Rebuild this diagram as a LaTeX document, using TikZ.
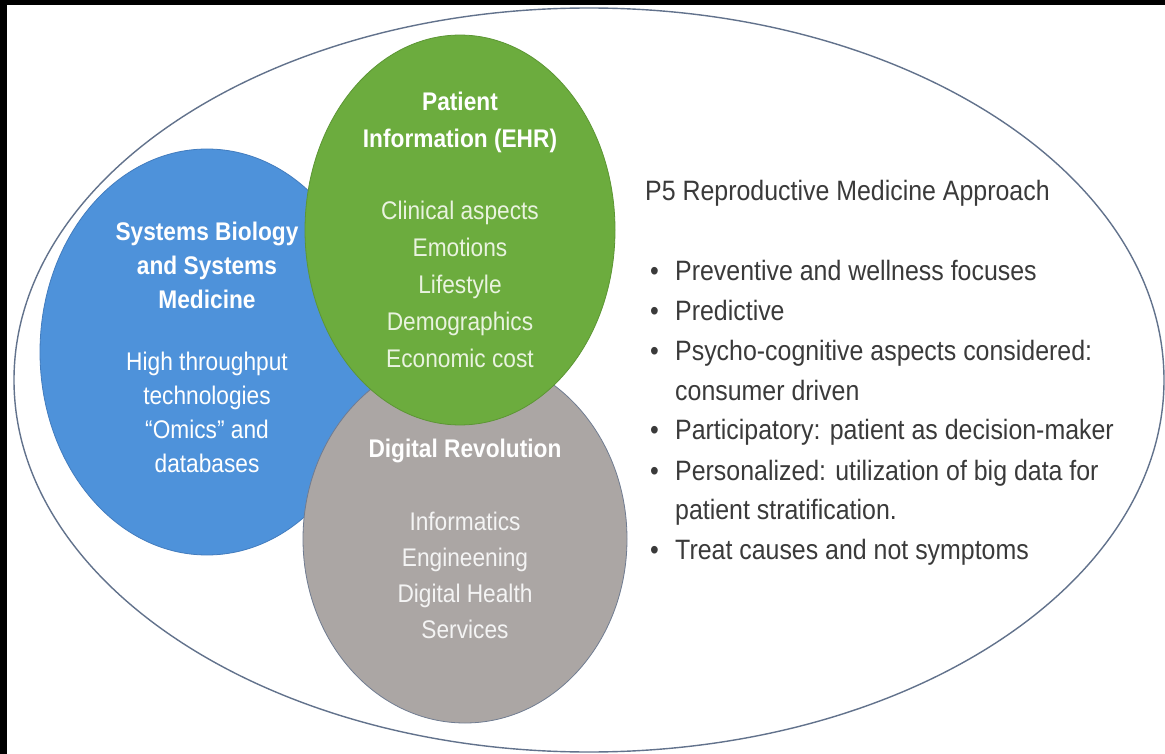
\documentclass[tikz,border=0pt]{standalone}
\usepackage{fontspec}
\setmainfont{Liberation Sans}[FakeStretch=0.89]
\usetikzlibrary{shapes.geometric}

\definecolor{ringline}{RGB}{98,114,140}
\definecolor{sysblue}{RGB}{78,146,218}
\definecolor{sysblueline}{RGB}{66,124,190}
\definecolor{ehrgreen}{RGB}{108,172,62}
\definecolor{ehrgreenline}{RGB}{92,150,52}
\definecolor{ehrtext}{RGB}{233,243,223}
\definecolor{digigray}{RGB}{171,166,164}
\definecolor{digigrayline}{RGB}{112,124,145}
\definecolor{digitext}{RGB}{244,244,244}
\definecolor{bodytext}{RGB}{58,58,58}

\begin{document}
\begin{tikzpicture}[x=1pt,y=-1pt]

      \useasboundingbox (0,0) rectangle (1165,754);
      \fill[white] (0,0) rectangle (1165,754);
      \fill[black] (0,0) rectangle (1165,5);
      \fill[black] (0,0) rectangle (7,754);

      % outer ring
      \draw[ringline, line width=1.4pt] (589,380) ellipse [x radius=575, y radius=372];

      \begin{scope}[every node/.style={ellipse, inner sep=0pt, align=center, text=white, line width=0.8pt}]
        \node[fill=sysblue, draw=sysblueline, minimum width=334pt, minimum height=406pt,
              text depth=10pt, font=\fontsize{25.5}{34}\selectfont] (sys) at (207,352)
          {\textbf{Systems Biology}\\ \textbf{and Systems}\\ \textbf{Medicine}\\[28pt]
           High throughput\\ technologies\\ “Omics” and\\ databases};
        \node[fill=digigray, draw=digigrayline, minimum width=324pt, minimum height=368pt,
              font=\fontsize{25.5}{36}\selectfont] (dig) at (465,539)
          {\textbf{Digital Revolution}\\[37pt]
           \color{digitext}Informatics\\ \color{digitext}Engineening\\
           \color{digitext}Digital Health\\ \color{digitext}Services};
        \node[fill=ehrgreen, draw=ehrgreenline, minimum width=310pt, minimum height=372pt,
              font=\fontsize{25.5}{37}\selectfont] (ehr) at (460,230)
          {\textbf{Patient}\\ \textbf{Information (EHR)}\\[35pt]
           \color{ehrtext}Clinical aspects\\ \color{ehrtext}Emotions\\ \color{ehrtext}Lifestyle\\
           \color{ehrtext}Demographics\\ \color{ehrtext}Economic cost};
      \end{scope}

      \begin{scope}[every node/.style={anchor=base west, inner sep=0pt, text=bodytext,
          font=\fontsize{28}{40}\selectfont}]
        \node (title) at (645,201) {P5 Reproductive Medicine Approach};
        \node (aims) at (650,280)
          {\begin{tabular}[t]{@{}p{25pt}@{}l@{}}
             \textbullet & Preventive and wellness focuses\\
             \textbullet & Predictive\\
             \textbullet & Psycho-cognitive aspects considered:\\
                         & consumer driven\\
             \textbullet & Participatory: patient as decision-maker\\
             \textbullet & Personalized: utilization of big data for\\
                         & patient stratification.\\
             \textbullet & Treat causes and not symptoms
           \end{tabular}};
      \end{scope}

    \end{tikzpicture}
\end{document}
